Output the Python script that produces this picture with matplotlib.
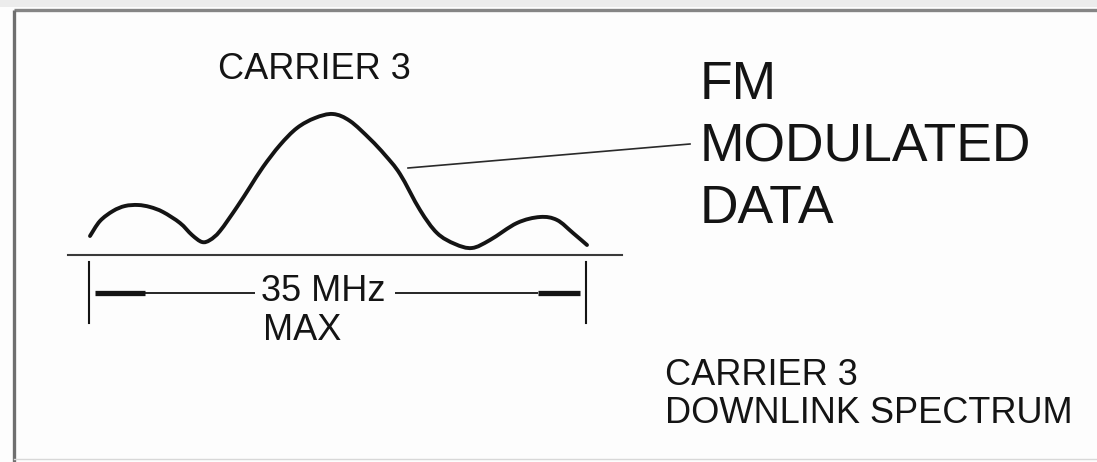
import matplotlib
matplotlib.use("Agg")
import matplotlib.pyplot as plt
import numpy as np
from matplotlib.path import Path
from matplotlib.patches import PathPatch

plt.rcParams['font.family'] = ['Liberation Sans', 'DejaVu Sans']

# ---- data (pixel space of the 1097x462 drawing) ----
spectrum_x = [90, 100, 113, 125, 138, 150, 163, 180, 192, 202, 210, 220, 237,
              250, 263, 280, 297, 315, 333, 350, 370, 385, 400, 420, 437,
              455, 472, 490, 517, 540, 557, 573, 587]
spectrum_y = [236, 221, 211, 206, 205, 207, 212, 223, 235, 242, 240, 231, 207,
              187, 167, 145, 128, 118, 114, 121, 139, 155, 174, 210, 233,
              244, 248, 240, 223, 217, 220, 233, 245]

baseline_x = [68, 622]
baseline_y = [255, 255]

tick_left_x = [89, 89]
tick_right_x = [586, 586]
tick_y = [262, 323]

arrow_y = 293
arrow_left_thick = [95, 145]
arrow_left_thin = [145, 255]
arrow_right_thin = [395, 538]
arrow_right_thick = [538, 580]

leader_x = [408, 690]
leader_y = [168, 144]

title_top = "CARRIER 3"
big_label = ["FM", "MODULATED", "DATA"]
span_label = ["35 MHz", "MAX"]
caption = ["CARRIER 3", "DOWNLINK SPECTRUM"]

# ---- figure ----
W, H = 1097, 462
fig = plt.figure(figsize=(W / 100, H / 100), dpi=100)
ax = fig.add_axes([0, 0, 1, 1])
ax.set_xlim(0, W)
ax.set_ylim(H, 0)
ax.axis('off')
fig.patch.set_facecolor('#fdfdfd')

# frame
ax.axhspan(0, 7, color='#ececec', lw=0)
ax.plot([14, W], [10, 10], color='#858585', lw=2.4, solid_capstyle='butt')
ax.plot([14, 14], [10, H], color='#6f6f6f', lw=2.4, solid_capstyle='butt')
ax.plot([14, W], [459, 459], color='#d8d8d8', lw=1.0)

ink = '#141414'

# spectrum curve: smooth Bezier path through the read-off points
pts = np.column_stack([spectrum_x, spectrum_y]).astype(float)
verts = [pts[0]]
codes = [Path.MOVETO]
n = len(pts)
for i in range(n - 1):
    p0 = pts[i - 1] if i > 0 else pts[i]
    p1 = pts[i]
    p2 = pts[i + 1]
    p3 = pts[i + 2] if i + 2 < n else pts[i + 1]
    c1 = p1 + (p2 - p0) / 6.0
    c2 = p2 - (p3 - p1) / 6.0
    verts += [c1, c2, p2]
    codes += [Path.CURVE4] * 3
ax.add_patch(PathPatch(Path(verts, codes), facecolor='none', edgecolor=ink,
                       lw=2.8, capstyle='round', joinstyle='round'))

# baseline
ax.plot(baseline_x, baseline_y, color='#3a3a3a', lw=1.5)

# span ticks
ax.plot(tick_left_x, tick_y, color=ink, lw=1.5)
ax.plot(tick_right_x, tick_y, color=ink, lw=1.5)

# span arrows
ax.plot(arrow_left_thick, [arrow_y] * 2, color=ink, lw=3.8, solid_capstyle='butt')
ax.plot(arrow_left_thin, [arrow_y] * 2, color=ink, lw=1.3, solid_capstyle='butt')
ax.plot(arrow_right_thin, [arrow_y] * 2, color=ink, lw=1.3, solid_capstyle='butt')
ax.plot(arrow_right_thick, [arrow_y] * 2, color=ink, lw=3.8, solid_capstyle='butt')

# leader line
ax.plot(leader_x, leader_y, color='#2a2a2a', lw=1.2)

# texts
small = 26
big = 38.5
ax.text(218, 79, title_top, fontsize=small, color=ink, ha='left', va='baseline')
for i, s in enumerate(big_label):
    ax.text(700, 99 + 62 * i, s, fontsize=big, color=ink, ha='left', va='baseline')
ax.text(261, 301, span_label[0], fontsize=small, color=ink, ha='left', va='baseline')
ax.text(263, 340, span_label[1], fontsize=small, color=ink, ha='left', va='baseline')
ax.text(665, 385, caption[0], fontsize=small, color=ink, ha='left', va='baseline')
ax.text(665, 423, caption[1], fontsize=small, color=ink, ha='left', va='baseline')

fig.savefig('out.png', dpi=100, facecolor=fig.get_facecolor())
